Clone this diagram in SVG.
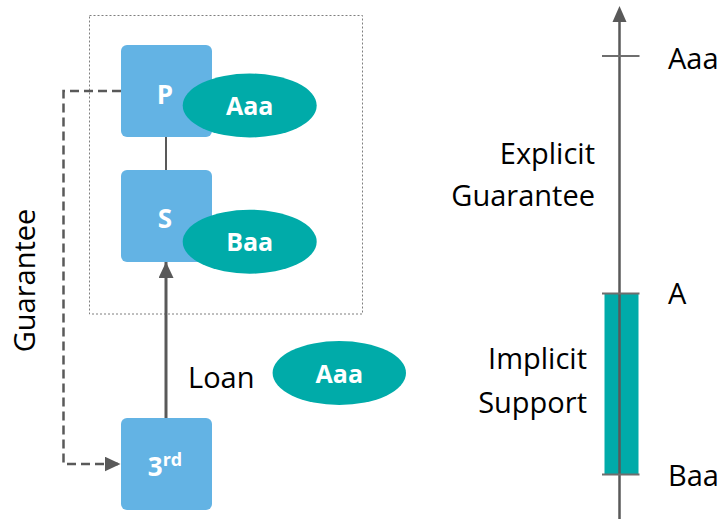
<svg xmlns="http://www.w3.org/2000/svg" width="723" height="519" viewBox="0 0 723 519">
  <defs>
    <style>
      .box { fill: #63B3E4; }
      .rating { fill: #00ABA9; }
      .lbl { font-family: "Open Sans", "Noto Sans", sans-serif; font-weight: bold; fill: #ffffff; text-anchor: middle; }
      .txt { font-family: "Open Sans", "Noto Sans", sans-serif; font-size: 29px; fill: #000000; }
      .line { stroke: #595959; fill: none; }
      .tick { stroke: #6e6e6e; stroke-width: 2; }
    </style>
    <marker id="arrowSolid" viewBox="0 0 16 15" refX="16" refY="7.5" markerUnits="userSpaceOnUse" markerWidth="16" markerHeight="15" orient="auto">
      <path d="M0,0 L16,7.5 L0,15 Z" fill="#595959"/>
    </marker>
    <marker id="arrowDash" viewBox="0 0 16 15" refX="16" refY="7.5" markerUnits="userSpaceOnUse" markerWidth="16" markerHeight="15" orient="auto">
      <path d="M0,0 L16,7.5 L0,15 Z" fill="#595959"/>
    </marker>
  </defs>

  <rect width="723" height="519" fill="#ffffff"/>

  <!-- group boundary around parent and subsidiary -->
  <rect id="group-box" x="89.5" y="15.5" width="273" height="298.5" fill="none" stroke="#7f7f7f" stroke-width="1" stroke-dasharray="2 2"/>

  <!-- connectors -->
  <g id="connectors">
    <line class="line" x1="166" y1="137" x2="166" y2="170" stroke-width="2"/>
    <line class="line" x1="166" y1="418" x2="166" y2="262" stroke-width="3" marker-end="url(#arrowSolid)"/>
    <path class="line" d="M121,91 H63.5 V464 H120.5" stroke-width="2.5" stroke-dasharray="9 5" marker-end="url(#arrowDash)"/>
  </g>

  <!-- parent -->
  <g id="node-parent">
    <rect class="box" x="121" y="45" width="91" height="92" rx="6"/>
    <text class="lbl" x="165" y="104" font-size="26">P</text>
  </g>
  <g id="rating-parent">
    <ellipse class="rating" cx="249.7" cy="105.5" rx="67" ry="32"/>
    <text class="lbl" x="249.7" y="114.5" font-size="25">Aaa</text>
  </g>

  <!-- subsidiary -->
  <g id="node-sub">
    <rect class="box" x="121" y="170" width="91" height="92" rx="6"/>
    <text class="lbl" x="165" y="228" font-size="26">S</text>
  </g>
  <g id="rating-sub">
    <ellipse class="rating" cx="249.7" cy="241.7" rx="67" ry="32"/>
    <text class="lbl" x="249.7" y="251" font-size="25">Baa</text>
  </g>

  <!-- third party -->
  <g id="node-third">
    <rect class="box" x="121" y="418" width="91" height="92" rx="6"/>
    <text class="lbl" x="165" y="476" font-size="26">3<tspan font-size="18" dy="-10">rd</tspan></text>
  </g>

  <!-- loan label and rating -->
  <g id="loan">
    <text class="txt" x="188" y="388">Loan</text>
    <ellipse class="rating" cx="339.3" cy="373" rx="66.7" ry="32"/>
    <text class="lbl" x="339.3" y="382.5" font-size="25">Aaa</text>
  </g>

  <!-- guarantee label -->
  <text id="guarantee-label" class="txt" transform="translate(35,280.5) rotate(-90)" text-anchor="middle">Guarantee</text>

  <!-- rating scale -->
  <g id="scale">
    <rect class="rating" x="604.5" y="293.5" width="34" height="181"/>
    <line class="line" x1="619.5" y1="519" x2="619.5" y2="20" stroke-width="2.5"/>
    <path d="M612.5,22 L619.5,6 L626.5,22 Z" fill="#595959"/>
    <line class="tick" x1="602" y1="56" x2="639.5" y2="56"/>
    <line class="tick" x1="602" y1="293.5" x2="639.5" y2="293.5"/>
    <line class="tick" x1="602" y1="474.5" x2="639.5" y2="474.5"/>
    <text class="txt" x="668" y="68.5">Aaa</text>
    <text class="txt" x="668" y="303.5">A</text>
    <text class="txt" x="668" y="486">Baa</text>
    <text class="txt" x="595" y="163.5" text-anchor="end">Explicit</text>
    <text class="txt" x="595" y="206" text-anchor="end">Guarantee</text>
    <text class="txt" x="587" y="368.5" text-anchor="end">Implicit</text>
    <text class="txt" x="587" y="412.5" text-anchor="end">Support</text>
  </g>
</svg>
